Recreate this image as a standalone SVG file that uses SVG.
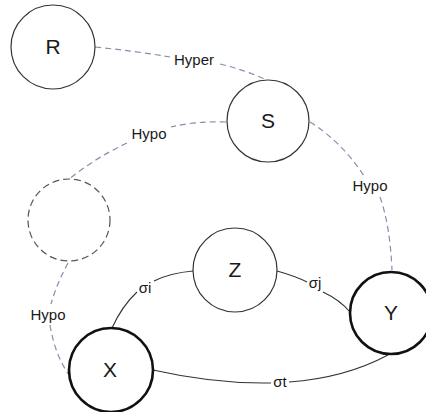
<svg xmlns="http://www.w3.org/2000/svg" width="426" height="412" viewBox="0 0 426 412">
<style>
.n{fill:#fff;stroke:#333;stroke-width:1.2}
.b{stroke:#111;stroke-width:2.6}
.d{stroke:#555;stroke-dasharray:7 4}
.nl{font-family:"Liberation Sans",Arial,sans-serif;font-size:21px;fill:#1a1a1a;text-anchor:middle}
.h{fill:none;stroke:#8490aa;stroke-width:1.2;stroke-dasharray:6 4}
.s{fill:none;stroke:#333;stroke-width:1.1}
.el{font-family:"Liberation Sans",Arial,sans-serif;font-size:15px;fill:#1a1a1a;text-anchor:middle}
</style>
<rect width="426" height="412" fill="#fff"/>
<g id="connectors">
<path class="h" d="M95,47 Q135,51 170,57"/>
<path class="h" d="M220,64 Q245,70 267,80"/>
<text class="el" x="194" y="65">Hyper</text>
<path class="h" d="M226,122 Q195,121 171,127"/>
<path class="h" d="M127,143 Q95,158 68,180"/>
<text class="el" x="149" y="139">Hypo</text>
<path class="h" d="M310,122 Q342,142 364,176"/>
<path class="h" d="M380,197 Q390,225 392,270"/>
<text class="el" x="370" y="191">Hypo</text>
<path class="h" d="M68,263 Q57,283 51,304"/>
<path class="h" d="M50,325 Q55,355 69,375"/>
<text class="el" x="48" y="320">Hypo</text>
<path class="s" d="M112,328 Q122,306 137,292"/>
<path class="s" d="M154,281 Q170,273 193,271"/>
<text class="el" x="145" y="293">σi</text>
<path class="s" d="M277,271 Q295,276 307,282"/>
<path class="s" d="M323,292 Q340,300 350,312"/>
<text class="el" x="315" y="288">σj</text>
<path class="s" d="M153,370 Q215,384 271,383"/>
<path class="s" d="M289,382 Q345,378 388,355"/>
<text class="el" x="280" y="387">σt</text>
</g>
<g id="node-R"><circle class="n" cx="53" cy="47" r="42"/><text class="nl" x="53" y="54">R</text></g>
<g id="node-S"><circle class="n" cx="268" cy="121" r="41"/><text class="nl" x="268" y="128">S</text></g>
<g id="node-empty"><circle class="n d" cx="69" cy="220" r="41"/></g>
<g id="node-Z"><circle class="n" cx="235" cy="270" r="42"/><text class="nl" x="235" y="277">Z</text></g>
<g id="node-X"><circle class="n b" cx="111" cy="370" r="42"/><text class="nl" x="110" y="377">X</text></g>
<g id="node-Y"><circle class="n b" cx="391" cy="313" r="41"/><text class="nl" x="391" y="320">Y</text></g>
</svg>
